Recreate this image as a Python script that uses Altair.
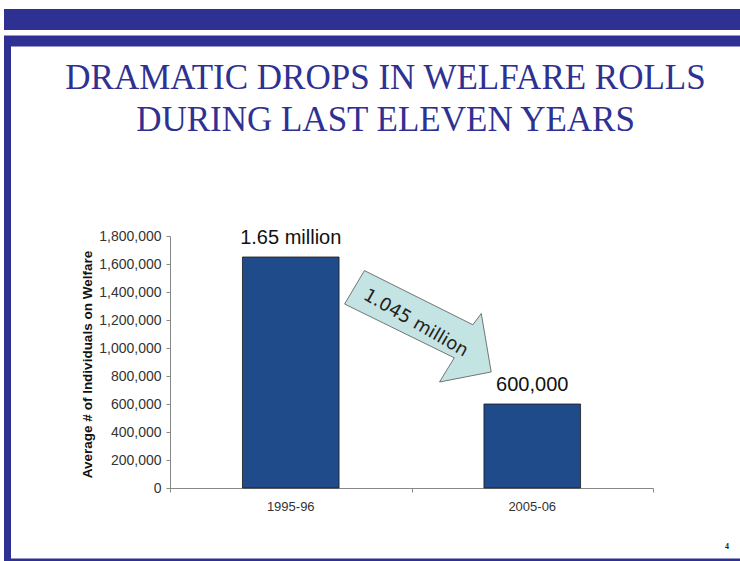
import altair as alt
import pandas as pd

# ---- data ----
years = ["1995-96", "2005-06"]
recipients = [1650000, 600000]
bar_labels = ["1.65 million", "600,000"]
y_ticks = [0, 200000, 400000, 600000, 800000, 1000000, 1200000, 1400000, 1600000, 1800000]

# arrow outline (x in category units, y in individuals)
arrow_x = [0.805, 1.254, 1.289, 1.330, 1.116, 1.177, 0.723, 0.805]
arrow_y = [1553000, 1166000, 1246000, 829000, 757000, 930000, 1314000, 1553000]
arrow_label = "1.045 million"

title_lines = ["DRAMATIC DROPS IN WELFARE ROLLS", "DURING LAST ELEVEN YEARS"]
page_no = "4"

NAVY = "#2E3192"
BAR = "#1F4B8A"

bars_df = pd.DataFrame({"year": years, "value": recipients, "label": bar_labels, "i": [0, 1]})
arrow_df = pd.DataFrame({"ax": arrow_x, "ay": arrow_y, "k": list(range(len(arrow_x)))})
one = pd.DataFrame({"a": [0]})

xs = alt.Scale(domain=[0, 2], nice=False, zero=False)
ys = alt.Scale(domain=[0, 1800000], nice=False)

x_axis = alt.Axis(values=[0, 1, 2], labels=False, title=None, grid=False,
                  domainColor="#888888", tickColor="#888888", tickSize=4)
y_axis = alt.Axis(values=y_ticks, labelExpr="format(datum.value, ',')", grid=False,
                  title="Average # of Individuals on Welfare",
                  domainColor="#888888", tickColor="#888888", tickSize=4,
                  labelFont="Liberation Sans", labelFontSize=14, labelColor="#333333", labelPadding=5,
                  titleFont="Liberation Sans", titleFontSize=13.5, titleFontWeight="bold",
                  titleColor="#111111", titleX=-83, titleY=128, titleAngle=-90,
                  titleBaseline="middle", titleAlign="center")

base = alt.Chart(bars_df).transform_calculate(x0="datum.i + 0.3", x1="datum.i + 0.7", xc="datum.i + 0.5")

bars = base.mark_rect(fill=BAR, stroke="#1a1a1a", strokeWidth=0.8).encode(
    x=alt.X("x0:Q", scale=xs, axis=x_axis),
    x2="x1:Q",
    y=alt.Y("value:Q", scale=ys, axis=y_axis),
    y2=alt.datum(0),
)

value_text = base.mark_text(font="Liberation Sans", fontSize=20, color="#111111",
                            baseline="alphabetic", dy=-13).encode(
    x=alt.X("xc:Q", scale=xs, axis=x_axis), y=alt.Y("value:Q", scale=ys, axis=y_axis), text="label:N")

cat_text = base.mark_text(font="Liberation Sans", fontSize=13, color="#333333",
                          baseline="middle", dy=19).encode(
    x=alt.X("xc:Q", scale=xs, axis=x_axis), y=alt.datum(0, scale=ys, axis=y_axis), text="year:N")

arrow = alt.Chart(arrow_df).mark_line(fill="#C4E3E3", stroke="#555555", strokeWidth=0.8,
                                      strokeJoin="miter").encode(
    x=alt.X("ax:Q", scale=xs, axis=x_axis), y=alt.Y("ay:Q", scale=ys, axis=y_axis), order="k:Q")

arrow_txt = alt.Chart(one).mark_text(font="DejaVu Sans", fontSize=18, color="#222222",
                                     angle=30, align="center", baseline="middle").encode(
    x=alt.datum(1.017, scale=xs, axis=x_axis), y=alt.datum(1176000, scale=ys, axis=y_axis),
    text=alt.value(arrow_label))

# slide decoration (pixel offsets from plot origin at 170,236)
def band(x1, x2, y1, y2, color):
    return alt.Chart(one).mark_rect(color=color).encode(
        x=alt.value(x1), x2=alt.value(x2), y=alt.value(y1), y2=alt.value(y2))

deco = [
    band(-166, 570, -227, -206, NAVY),
    band(-166, 570, -200.5, -189.5, NAVY),
    band(-166, -159, -200, 323, NAVY),
    band(-166, 570, 322.5, 325, NAVY),
]

t1 = alt.Chart(one).mark_text(font="Liberation Serif", fontSize=35, color=NAVY,
                              align="center", baseline="alphabetic").encode(
    x=alt.value(215.5), y=alt.value(-147), text=alt.value(title_lines[0]))
t2 = alt.Chart(one).mark_text(font="Liberation Serif", fontSize=35, color=NAVY,
                              align="center", baseline="alphabetic").encode(
    x=alt.value(215.5), y=alt.value(-105), text=alt.value(title_lines[1]))
pg = alt.Chart(one).mark_text(font="Liberation Serif", fontSize=8, fontWeight="bold", color="#222222",
                              align="center", baseline="alphabetic").encode(
    x=alt.value(557), y=alt.value(313), text=alt.value(page_no))

chart = alt.layer(bars, *deco, t1, t2, pg, value_text, cat_text, arrow, arrow_txt).properties(
    width=483, height=252,
    autosize=alt.AutoSizeParams(type="none"),
    padding={"left": 170, "top": 236, "right": 87, "bottom": 73},
    background="white",
).configure_view(stroke=None)

chart.save("out.html", embed_options={"renderer": "svg", "actions": False})
